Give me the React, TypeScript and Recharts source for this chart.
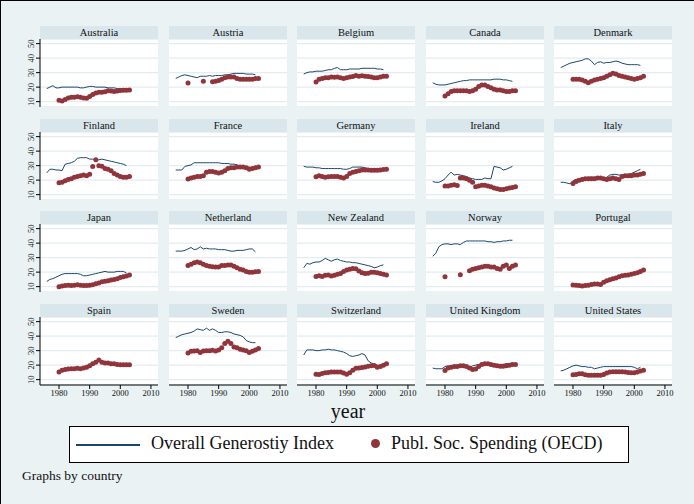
import React from "react";
import { ComposedChart, Line, Scatter, XAxis, YAxis, CartesianGrid } from "recharts";

const countries = [
  "Australia", "Austria", "Belgium", "Canada", "Denmark",
  "Finland", "France", "Germany", "Ireland", "Italy",
  "Japan", "Netherland", "New Zealand", "Norway", "Portugal",
  "Spain", "Sweden", "Switzerland", "United Kingdom", "United States",
];

// years covered by each series
const genYears = [
  1976, 1977, 1978, 1979, 1980, 1981, 1982, 1983, 1984, 1985, 1986, 1987, 1988, 1989,
  1990, 1991, 1992, 1993, 1994, 1995, 1996, 1997, 1998, 1999, 2000, 2001, 2002,
];
const spendYears = [
  1980, 1981, 1982, 1983, 1984, 1985, 1986, 1987, 1988, 1989, 1990, 1991,
  1992, 1993, 1994, 1995, 1996, 1997, 1998, 1999, 2000, 2001, 2002, 2003,
];

const xTicks = [1980, 1990, 2000, 2010];
const yTicks = [10, 20, 30, 40, 50];

// Overall Generosity Index, one row per country (same order as countries)
const generosity: (number | null)[][] = [
  [19, 20, 21, 19.5, 19.5, 20, 20, 20, 20, 20, 20, 19.5, 19.5, 20, 20.5, 20.5, 20, 20, 20, 20, 19.5, 19.5, 19.5, 19, 19, 19, 19],
  [26, 27, 28, 28.5, 28, 27.5, 27, 26.5, 27.5, 27.5, 27.5, 28, 27.5, 28, 28, 28, 28.5, 28.5, 29, 29.5, 29.5, 29.5, 29.5, 29, 29, 29, 28.5],
  [29, 30, 30.5, 30.5, 31, 31, 31, 31.5, 32, 32, 33, 33.5, 32, 32, 32, 32.5, 32.5, 32.5, 32.5, 33, 33, 33, 33, 33, 32.5, 32.5, 32],
  [23, 22, 21.5, 21.5, 21.5, 22, 22.5, 23, 23.5, 24, 24.5, 24.5, 25, 25, 25, 25, 25, 25, 25, 25, 25.5, 25.5, 25.5, 25, 25, 24.5, 24],
  [33.5, 34.5, 35.5, 36.5, 37, 37.5, 38, 38.5, 39.5, 39.5, 38, 35.5, 37, 37.5, 36.5, 37, 37, 37.5, 38, 37.5, 36.5, 36, 35.5, 35.5, 35.5, 35.5, 35],
  [25, 27.5, 27.5, 27, 27, 26.5, 31, 31.5, 32, 33, 35, 35.5, 35.5, 35.5, 34.5, 34.5, 34, 34, 34.5, 34, 33.5, 33, 32.5, 32, 31.5, 31, 30],
  [27, 27, 27, 29.5, 30, 30.5, 32, 32, 32, 32, 32, 32, 32, 32, 32, 31.5, 31.5, 31.5, 31, 31, 30.5, 29.5, 29, 29, 29, 28.5, 28.5],
  [29.5, 29, 29, 29, 28.5, 28.5, 28, 28, 28, 28, 28, 28, 28, 27.5, 27.5, 28, 29, 29, 29, 29, 28.5, 28, 28, 28, 28, 28, 28],
  [19, 18.5, 18.5, 19.5, 21, 23.5, 25.5, 23.5, 24, 23.5, 23, 22.5, 21.5, 21, 20.5, 20.5, 20.5, 21.5, 21, 21, 29.5, 29, 28.5, 27, 27.5, 28.5, 29.5],
  [18.5, 18.5, 18, 17.5, 19.5, 20.5, 21, 21.5, 21.5, 22, 22, 22, 22, 22.5, 21, 22, 23.5, 24, 24, 23.5, 23.5, 23.5, 24, 24.5, 25.5, 26.5, 27.5],
  [13.5, 15, 15.5, 16.5, 17.5, 18.5, 19, 19, 19, 19, 19, 18.5, 17.5, 17.5, 18, 18.5, 19, 19.5, 20, 20.5, 20, 20, 20, 20.5, 20.5, 20.5, 19.5],
  [34.5, 34.5, 34.5, 35, 36, 37, 35.5, 36, 37.5, 36, 36.5, 36, 36, 36, 35.5, 35.5, 35.5, 35, 34.5, 34.5, 35, 35, 35, 35.5, 36, 36, 34],
  [23, 26, 25.5, 26.5, 27, 27, 28, 29.5, 28.5, 27.5, 28.5, 29, 28, 27.5, 27, 27, 26.5, 26.5, 26, 25.5, 25, 24.5, 24, 23, 23.5, 24.5, 25],
  [31, 33, 37.5, 39, 39.5, 39.5, 39, 39.5, 39.5, 39, 40.5, 41.5, 41.5, 41.5, 41.5, 41.5, 41.5, 41.5, 41, 41, 40.5, 41, 41, 41.5, 41.5, 42, 42],
  [],
  [],
  [39, 40, 41, 41.5, 42, 42.5, 43.5, 45, 44.5, 44, 45.5, 44, 45, 44, 42.5, 42.5, 43, 43, 42.5, 41.5, 41, 40.5, 39.5, 37, 36, 35.5, 35.5],
  [27, 30.5, 30.5, 30.5, 30, 30, 30.5, 30.5, 31, 30.5, 30.5, 30, 29.5, 29, 28, 26.5, 26, 26.5, 27, 28, 27, 23, 21.5, 20.5, 20, 19.5, 19.5],
  [18, 17.5, 17.5, 17.5, 19, 19.5, 19, 19, 19.5, 19.5, 19.5, 19, 18.5, 19.5, 20, 20.5, 20.5, 20.5, 20, 20, 20, 20, 20.5, 20.5, 21, 21, 21.5],
  [16, 16.5, 17.5, 18.5, 19.5, 20, 19.5, 19, 19, 18.5, 18.5, 17.5, 18, 18.5, 19, 19, 19, 19, 19, 19, 19, 19, 19, 19, 18.5, 17.5, 18.5],
];

// Public Social Spending (OECD), one row per country
const spending: (number | null)[][] = [
  [10.9, 10.5, 11.5, 12.5, 13, 13, 13.3, 13, 12.5, 12.3, 13.5, 15, 16, 16.5, 16.5, 16.8, 17.5, 17.3, 17, 17.3, 17.6, 17.8, 17.8, 18],
  [22.9, null, null, null, null, 24, null, null, 23.8, 24, 24.5, 25.5, 26.5, 27, 27, 27, 26, 25.5, 25.5, 25.5, 25.5, 25.5, 26, 26],
  [23.6, 25.5, 26, 26.5, 26.5, 27, 26.8, 27, 26.5, 26, 26.5, 27, 27.3, 28, 27.5, 27.8, 27.5, 27.3, 27, 26.5, 26.5, 27, 27.5, 27.5],
  [13.9, 15.5, 17, 17.5, 17.5, 17.5, 17.5, 17.5, 17, 17.5, 18.5, 20.5, 21.5, 21.5, 20.5, 19.5, 18.5, 18, 18, 17.5, 17, 17, 17.5, 17.5],
  [25.4, 25.5, 25.5, 25, 24, 23, 24, 25, 25.5, 26, 26.5, 27.5, 28.5, 29.5, 29, 28, 27.5, 27, 26.5, 26, 25.5, 26, 26.5, 27.5],
  [18.2, 18.5, 19.5, 20.5, 21, 22, 22.5, 23, 23.5, 23, 24, 29.4, 34, 30, 29.5, 28, 27.5, 26.5, 24.5, 23.5, 22.5, 22, 22, 22.5],
  [20.8, 21.5, 22, 22.5, 22.5, 23, 25.5, 26, 26, 25.5, 25, 25.5, 26.5, 28, 28.5, 28.5, 29, 29, 29, 28.5, 27.5, 28, 28.5, 29],
  [22.4, 23, 22.5, 22, 22.3, 22.5, 22.5, 22.5, 22, 21.5, 22.5, 24.5, 25.5, 26, 26.5, 27, 27, 27, 26.8, 26.8, 26.8, 27, 27.3, 27.5],
  [16, 16, 16.5, 16.8, 16.3, 21.5, 21.5, 21, 20, 18.5, 15.5, 16, 16.5, 16.5, 16, 15.5, 14.5, 14, 13.5, 13.5, 14, 14.5, 15, 15.5],
  [17.7, 19, 20, 20.5, 21, 21, 21, 21, 21.5, 21.5, 21, 20.5, 21, 21.5, 21, 20.5, 22.5, 23, 23, 23, 23.5, 23.5, 24, 24.5],
  [10, 10.5, 10.8, 11, 10.8, 11, 11.3, 11, 10.8, 10.8, 11, 11.3, 12, 12.5, 13.3, 13.8, 14, 14.5, 15, 15.5, 16.3, 16.8, 17.3, 18],
  [24.6, 25.5, 26.5, 27, 26.5, 25.5, 24.5, 24, 23.8, 23.5, 23.5, 24.5, 24.5, 25, 25, 24, 23, 22, 21.5, 20.5, 20, 20, 20.3, 20.5],
  [17, 17.5, 17, 17.8, 18, 17.3, 17.8, 18.5, 19, 20.5, 21.5, 22, 22.5, 22.3, 20.8, 19.5, 19, 19.3, 20, 20, 19.5, 19, 18.5, 18],
  [16.8, null, null, null, null, 18.2, null, null, 21, 22, 22.5, 23, 23.5, 24, 24, 23.5, 23.5, 22.5, 22, 24, 25, 22.5, 24, 25],
  [11.2, 11, 10.8, 10.5, 10.8, 11, 11.5, 11.8, 11.8, 11.5, 13, 14, 14.8, 15.5, 16, 16.8, 17.5, 17.8, 18, 18.5, 19, 19.5, 20.5, 21.5],
  [15.3, 16.5, 17, 17.3, 17.5, 17.5, 17.8, 17.5, 18, 18.5, 19.5, 21, 22, 23.5, 22, 21.5, 21.5, 21, 21, 20.5, 20.3, 20.3, 20.3, 20.3],
  [28.4, 29.5, 29.8, 30, 28.8, 29.8, 30, 30, 30.3, 29.8, 30.5, 32, 35, 36.5, 35, 32.5, 32, 31, 30.5, 30, 28.8, 29.5, 30.5, 31.5],
  [13.7, 13.5, 14.3, 14.8, 15, 15.3, 15.3, 15.3, 15.3, 14.5, 13.8, 14.8, 16.5, 17.8, 18, 18.3, 18.8, 19.3, 19.5, 19.8, 18.5, 19, 20, 21],
  [16.3, 18, 18.5, 19, 19, 19.5, 19.5, 19, 18, 17, 17.3, 19, 20.5, 21, 21, 20.5, 20, 19.5, 19.3, 19.3, 19.5, 20, 20.5, 20.5],
  [13.3, 13.5, 14, 14, 13.3, 13, 13, 13, 13, 13, 13.5, 14.5, 15.3, 15.5, 15.5, 15.5, 15.5, 15.2, 15, 14.8, 14.8, 15.3, 16, 16.5],
];

const NAVY = "#1a476f";
const MAROON = "#90353b";
const BG = "#eaf2f3";
const STRIP = "#d9e6eb";
const FONT = "'Liberation Serif', 'DejaVu Serif', serif";

const PANEL_W = 118;
const PANEL_H = 68;
const STRIP_H = 13;
const Y_AXIS_W = 30;
const X_AXIS_H = 22;
const RIGHT_PAD = 10; // room for the last x tick label

const YTick = (props: any) => {
  const { x, y, payload } = props;
  return (
    <text
      x={x}
      y={y}
      transform={`rotate(-90 ${x} ${y})`}
      textAnchor="middle"
      fontSize={8.5}
      fontFamily={FONT}
      fill="#111"
    >
      {payload.value}
    </text>
  );
};

const Dot = (props: any) => {
  if (props.cx == null || props.cy == null) return null;
  return <circle cx={props.cx} cy={props.cy} r={2.5} fill={MAROON} />;
};

function Panel({ idx }: { idx: number }) {
  const col = idx % 5;
  const row = Math.floor(idx / 5);
  const left = 39 + Math.round(col * 128.5);
  const top = 25 + Math.round(row * 92.7);
  const showY = col === 0;
  const showX = row === 3;

  const gen = generosity[idx];
  const lineData = genYears.map((year, i) => ({ year, gen: gen[i] ?? null }));
  const dotData = spendYears
    .map((year, i) => ({ year, spend: spending[idx][i] }))
    .filter((d) => d.spend != null);

  const width = PANEL_W + (showY ? Y_AXIS_W : 0) + RIGHT_PAD;
  const height = PANEL_H + (showX ? X_AXIS_H : 0);

  return (
    <>
      <div
        style={{
          position: "absolute",
          left,
          top,
          width: PANEL_W,
          height: STRIP_H,
          background: STRIP,
          textAlign: "center",
          fontSize: 10.5,
          lineHeight: `${STRIP_H}px`,
          fontFamily: FONT,
          color: "#111",
        }}
      >
        {countries[idx]}
      </div>
      <div style={{ position: "absolute", left: left - (showY ? Y_AXIS_W : 0), top: top + STRIP_H }}>
        <ComposedChart
          width={width}
          height={height}
          margin={{ top: 0, right: RIGHT_PAD, bottom: 0, left: 0 }}
        >
          <CartesianGrid vertical={false} stroke="#e3ecef" strokeWidth={1.3} fill="#ffffff" />
          <XAxis
            dataKey="year"
            type="number"
            domain={[1973.8, 2012.3]}
            ticks={xTicks}
            interval={0}
            allowDataOverflow
            hide={!showX}
            height={X_AXIS_H}
            tickSize={4}
            tickMargin={1}
            stroke="#000"
            tick={{ fontSize: 8.5, fontFamily: FONT, fill: "#111" }}
          />
          <YAxis
            type="number"
            domain={[6.3, 53.2]}
            ticks={yTicks}
            interval={0}
            allowDataOverflow
            hide={!showY}
            width={Y_AXIS_W}
            tickSize={4}
            tickMargin={2}
            stroke="#000"
            tick={<YTick />}
          />
          <Line
            data={lineData}
            dataKey="gen"
            stroke={NAVY}
            strokeWidth={1}
            dot={false}
            isAnimationActive={false}
          />
          <Scatter data={dotData} dataKey="spend" shape={<Dot />} isAnimationActive={false} />
        </ComposedChart>
      </div>
    </>
  );
}

export default function App() {
  return (
    <div
      style={{
        position: "absolute",
        left: 0,
        top: 0,
        width: 694,
        height: 504,
        background: BG,
        borderTop: "1px solid #000",
        borderLeft: "1px solid #000",
        boxSizing: "border-box",
        fontFamily: FONT,
        overflow: "hidden",
      }}
    >
      {countries.map((c, i) => (
        <Panel key={c} idx={i} />
      ))}

      <div
        style={{
          position: "absolute",
          left: 300,
          width: 94,
          top: 399,
          textAlign: "center",
          fontSize: 20,
          color: "#111",
        }}
      >
        year
      </div>

      <div
        style={{
          position: "absolute",
          left: 68,
          top: 425,
          width: 560,
          height: 37,
          background: "#fff",
          border: "1px solid #000",
          boxSizing: "border-box",
        }}
      >
        <div style={{ position: "absolute", left: 6, top: 17, width: 64, height: 2, background: NAVY }} />
        <div style={{ position: "absolute", left: 81, top: 6, fontSize: 18, color: "#111", whiteSpace: "nowrap" }}>
          Overall Generostiy Index
        </div>
        <div
          style={{
            position: "absolute",
            left: 301,
            top: 12,
            width: 9,
            height: 9,
            borderRadius: "50%",
            background: MAROON,
          }}
        />
        <div style={{ position: "absolute", left: 321, top: 6, fontSize: 18, color: "#111", whiteSpace: "nowrap" }}>
          Publ. Soc. Spending (OECD)
        </div>
      </div>

      <div style={{ position: "absolute", left: 21, top: 467, fontSize: 13.5, color: "#111" }}>
        Graphs by country
      </div>
    </div>
  );
}
